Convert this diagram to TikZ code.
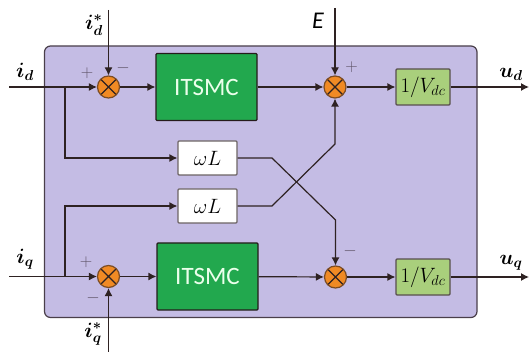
\documentclass[tikz,border=0pt]{standalone}
\usepackage{amsmath}
\usepackage{bm}
\usepackage{fontspec}
\setmainfont{Carlito}
\definecolor{panelfill}{HTML}{C4BCE4}
\definecolor{panelline}{HTML}{4A3F4A}
\definecolor{wire}{HTML}{2E2222}
\definecolor{smcfill}{HTML}{22A84E}
\definecolor{gainfill}{HTML}{A9CF7C}
\definecolor{sumfill}{HTML}{F08A24}
\definecolor{signcol}{HTML}{5F5468}
\newcommand{\fs}[2]{\fontsize{#1}{#2}\selectfont}
\usetikzlibrary{arrows.meta}
\tikzset{
  x=1pt,y=-1pt,
  panelbox/.style={draw=panelline,line width=1.2pt,fill=panelfill,rounded corners=6pt},
  smcbox/.style={draw=wire!80!black,line width=1.2pt,fill=smcfill,rounded corners=1pt,text=white!92!green,inner sep=0pt,minimum width=101pt,minimum height=67pt,font=\fs{25}{28}},
  wlbox/.style={draw=wire!70,line width=1.2pt,fill=white,rounded corners=1pt,inner sep=0pt,minimum width=59pt,minimum height=34pt,font=\fs{22}{24}},
  gainbox/.style={draw=wire!80,line width=1.2pt,fill=gainfill,rounded corners=1pt,inner sep=0pt,minimum width=54pt,minimum height=36pt,font=\fs{21}{24}},
  sumnode/.style={circle,draw=wire!60!sumfill,line width=1.2pt,fill=sumfill,inner sep=0pt,minimum size=22pt,
    path picture={\draw[wire,line width=1.1pt]
      (path picture bounding box.north west)--(path picture bounding box.south east)
      (path picture bounding box.north east)--(path picture bounding box.south west);}},
  conn/.style={draw=wire,line width=1.2pt,-{Latex[length=8pt,width=8pt]}},
  lab/.style={inner sep=0pt,font=\fs{20}{22}},
  sign/.style={inner sep=0pt,text=signcol,font=\fs{18}{20}},
}
\begin{document}
\begin{tikzpicture}
\useasboundingbox (0,0) rectangle (529,352);
\node[panelbox,minimum width=432.5pt,minimum height=271.5pt,inner sep=0pt] (panel) at (260.75,181.75) {};
% blocks
\node[smcbox] (smcA) at (206.5,87) {ITSMC};
\node[smcbox] (smcB) at (207.5,276.5) {ITSMC};
\node[wlbox] (wlA) at (207.5,158) {$\omega L$};
\node[wlbox] (wlB) at (207.5,206) {$\omega L$};
\node[gainbox] (gainA) at (423,87) {$1/V_{dc}$};
\node[gainbox] (gainB) at (423,277) {$1/V_{dc}$};
\node[sumnode] (sumA) at (108.5,87) {};
\node[sumnode] (sumB) at (108.5,276.5) {};
\node[sumnode] (sumC) at (335,87) {};
\node[sumnode] (sumD) at (335.5,277) {};
% free ends
\coordinate (idin) at (9,87);
\coordinate (iqin) at (9,276.5);
\coordinate (idsin) at (108.5,10);
\coordinate (iqsin) at (108.5,352);
\coordinate (ein) at (335,8);
\coordinate (udout) at (529,87);
\coordinate (uqout) at (529,277);
\coordinate (brA) at (65,87);
\coordinate (brB) at (65,276.5);
% wires
\draw[conn] (idin) -- (sumA);
\draw[conn] (iqin) -- (sumB);
\draw[conn] (idsin) -- (sumA);
\draw[conn] (iqsin) -- (sumB);
\draw[conn] (ein) -- (sumC);
\draw[conn] (sumA) -- (smcA);
\draw[conn] (sumB) -- (smcB);
\draw[conn] (smcA) -- (sumC);
\draw[conn] (smcB) -- (sumD);
\draw[conn] (sumC) -- (gainA);
\draw[conn] (sumD) -- (gainB);
\draw[conn] (gainA) -- (udout);
\draw[conn] (gainB) -- (uqout);
\draw[conn] (brA) |- (wlA);
\draw[conn] (brB) |- (wlB);
\draw[conn] (wlA.east) -- (272,158) -- (335.5,220) -- (sumD);
\draw[conn] (wlB.east) -- (272,206) -- (335,144) -- (sumC);
% labels
\node[lab] (tid) at (25,72) {$\bm{i_d}$};
\node[lab] (tiq) at (25,259) {$\bm{i_q}$};
\node[lab] (tids) at (94,25) {$\bm{i_d^*}$};
\node[lab] (tiqs) at (93,334) {$\bm{i_q^*}$};
\node[lab,font=\fs{24}{26}\itshape] (tE) at (318,21) {E};
\node[lab] (tud) at (511,74) {$\bm{u_d}$};
\node[lab] (tuq) at (511,263) {$\bm{u_q}$};
\node[sign] (pA) at (87,73) {$+$};
\node[sign] (mA) at (123,68) {$-$};
\node[sign] (pB) at (86,262) {$+$};
\node[sign] (mB) at (93,298) {$-$};
\node[sign] (pC) at (351.5,67.5) {$+$};
\node[sign] (mD) at (350,251) {$-$};
\end{tikzpicture}
\end{document}
